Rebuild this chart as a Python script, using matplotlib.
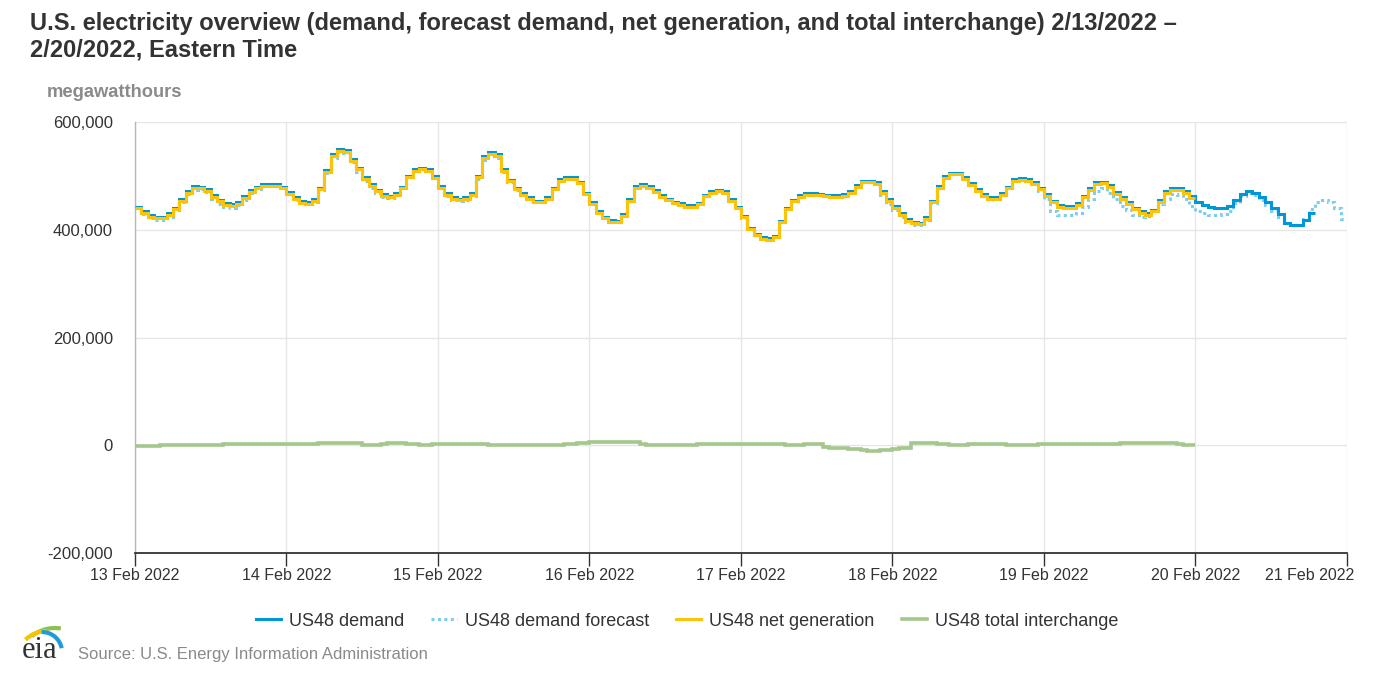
import numpy as np
import matplotlib
matplotlib.use('Agg')
import matplotlib.pyplot as plt
import matplotlib.transforms as mtransforms
from matplotlib.lines import Line2D
from matplotlib.patches import Arc
from matplotlib.ticker import FuncFormatter

plt.rcParams['font.family'] = ['Liberation Sans', 'DejaVu Sans']

# hourly values, thousand MWh, starting 13 Feb 2022 00:00 Eastern
demand = [
    443, 435, 427, 424, 424, 431, 441, 457, 472, 481, 480, 475, 464, 456, 449, 448, 451, 462, 473, 480, 485, 485, 484, 480,
    470, 460, 453, 451, 457, 478, 510, 540, 549, 548, 531, 515, 497, 485, 474, 466, 463, 468, 480, 500, 512, 515, 512, 499,
    481, 468, 460, 458, 460, 468, 500, 537, 544, 540, 512, 493, 478, 468, 460, 454, 454, 460, 478, 494, 497, 497, 489, 469,
    451, 435, 424, 418, 417, 429, 457, 481, 485, 481, 473, 464, 458, 452, 449, 446, 446, 450, 465, 472, 474, 472, 457, 443,
    426, 404, 393, 386, 384, 389, 417, 441, 456, 464, 468, 468, 467, 465, 464, 464, 466, 472, 483, 491, 491, 488, 472, 457,
    444, 431, 420, 415, 413, 423, 454, 481, 499, 506, 506, 497, 486, 475, 466, 461, 460, 468, 480, 494, 496, 494, 488, 478,
    466, 454, 446, 444, 444, 449, 463, 477, 488, 489, 483, 470, 461, 451, 441, 434, 431, 437, 455, 472, 477, 477, 472, 462,
    452, 446, 443, 440, 440, 444, 456, 467, 472, 469, 460, 452, 440, 430, 412, 408, 408, 418, 432,
]
forecast = [
    440, 430, 421, 418, 418, 424, 436, 452, 466, 474, 476, 470, 458, 448, 442, 441, 446, 456, 468, 476, 483, 484, 483, 478,
    467, 456, 449, 447, 452, 474, 505, 533, 544, 543, 525, 508, 490, 478, 468, 461, 459, 464, 477, 497, 510, 513, 510, 497,
    477, 463, 455, 453, 455, 463, 494, 530, 537, 533, 507, 489, 474, 465, 457, 451, 451, 457, 475, 492, 495, 495, 487, 468,
    450, 434, 423, 416, 415, 426, 454, 479, 484, 480, 471, 462, 456, 451, 447, 444, 445, 449, 463, 471, 473, 471, 455, 440,
    422, 402, 391, 384, 382, 388, 414, 438, 454, 463, 467, 466, 464, 462, 461, 461, 463, 469, 480, 489, 489, 485, 465, 448,
    436, 424, 414, 409, 408, 418, 450, 477, 496, 503, 503, 494, 483, 472, 464, 459, 458, 465, 477, 491, 494, 491, 484, 471,
    457, 435, 428, 427, 428, 431, 443, 457, 472, 477, 469, 457, 444, 437, 428, 424, 426, 435, 448, 458, 466, 465, 457, 444,
    435, 431, 428, 428, 430, 435, 450, 462, 468, 465, 455, 446, 435, 423, 413, 409, 409, 420, 438, 452, 455, 452, 440, 420,
]
net_generation = [
    440, 432, 424, 421, 421, 428, 438, 454, 469, 478, 477, 472, 461, 453, 446, 445, 448, 459, 470, 477, 482, 482, 481, 477,
    467, 457, 450, 448, 454, 475, 507, 537, 546, 545, 528, 512, 494, 482, 471, 463, 460, 465, 477, 497, 509, 512, 509, 496,
    478, 465, 457, 455, 457, 465, 497, 534, 541, 537, 509, 490, 475, 465, 457, 451, 451, 457, 475, 491, 494, 494, 486, 466,
    448, 432, 421, 415, 414, 426, 454, 478, 482, 478, 470, 461, 455, 449, 446, 443, 443, 447, 462, 469, 471, 469, 454, 440,
    423, 401, 390, 383, 381, 386, 414, 438, 453, 461, 465, 465, 464, 462, 461, 461, 463, 469, 480, 488, 488, 485, 469, 454,
    441, 428, 417, 412, 410, 420, 451, 478, 496, 503, 503, 494, 483, 472, 463, 458, 457, 465, 477, 491, 493, 491, 485, 475,
    463, 451, 443, 441, 441, 446, 460, 474, 485, 486, 480, 467, 458, 448, 438, 431, 428, 434, 452, 469, 474, 474, 469, 459,
]
interchange = [
    -2, -2, -1, -1, 0, 0, 0, 0, 0, 0, 0, 1, 1, 1, 2, 2, 3, 3, 3, 2, 2, 2, 2, 2,
    2, 2, 2, 2, 3, 4, 4, 4, 4, 4, 4, 4, 1, 0, 1, 2, 4, 4, 4, 3, 3, 0, 1, 2,
    3, 3, 3, 3, 3, 3, 3, 3, 1, 0, 1, 1, 1, 1, 1, 1, 1, 1, 1, 1, 2, 3, 4, 5,
    6, 6, 6, 6, 6, 6, 6, 6, 2, 1, 1, 1, 1, 0, 1, 1, 1, 2, 2, 2, 2, 2, 2, 2,
    2, 2, 2, 2, 2, 2, 2, 1, 1, 0, 2, 3, 3, -4, -6, -6, -6, -7, -7, -8, -10, -10, -9, -8,
    -7, -6, -5, 4, 4, 4, 4, 3, 3, 1, 0, 1, 2, 2, 3, 3, 3, 2, 1, 0, 0, 1, 1, 2,
    2, 2, 2, 2, 2, 2, 2, 3, 3, 3, 3, 3, 4, 4, 4, 5, 5, 5, 5, 5, 5, 3, 0, 1,
]
day_labels = ['13 Feb 2022', '14 Feb 2022', '15 Feb 2022', '16 Feb 2022', '17 Feb 2022',
              '18 Feb 2022', '19 Feb 2022', '20 Feb 2022', '21 Feb 2022']

series = [
    ('US48 demand forecast', forecast, '#7fcdee', (0, (1, 1.1)), 2.2, 2),
    ('US48 demand', demand, '#0096d7', '-', 2.2, 3),
    ('US48 net generation', net_generation, '#fdc20a', '-', 2.2, 4),
    ('US48 total interchange', interchange, '#a4c78c', '-', 2.6, 4),
]

W, H = 1374, 675
fig = plt.figure(figsize=(W / 100, H / 100), dpi=100)
ax = fig.add_axes([135 / W, 1 - 553 / H, 1212 / W, 431 / H])

for name, vals, color, ls, lw, z in series:
    v = np.array(vals) * 1000
    ax.stairs(v, np.arange(len(v) + 1), baseline=None, color=color,
              linestyle=ls, linewidth=lw, zorder=z)

ax.set_xlim(0, 192)
ax.set_ylim(-200000, 600000)
ax.set_xticks(np.arange(0, 193, 24))
ax.set_xticklabels(day_labels)
ax.set_yticks(np.arange(-200000, 600001, 200000))
ax.yaxis.set_major_formatter(FuncFormatter(lambda v, p: f'{int(v):,}'))
ax.grid(True, color='#e6e6e6', linewidth=1, zorder=0)
ax.set_axisbelow(True)
for s in ['top', 'right']:
    ax.spines[s].set_visible(False)
ax.spines['left'].set_color('#b8b8b8')
ax.spines['left'].set_linewidth(1)
ax.spines['bottom'].set_color('#333333')
ax.spines['bottom'].set_linewidth(1.3)
ax.tick_params(axis='x', length=9, width=1, color='#333333', labelsize=11.5,
               labelcolor='#333333', pad=2)
ax.tick_params(axis='y', length=0, labelsize=12, labelcolor='#333333', pad=16)

# last date label is pulled inside the figure like the original
last = ax.get_xticklabels()[-1]
last.set_horizontalalignment('right')
last.set_transform(last.get_transform() + mtransforms.ScaledTranslation(7 / 100, 0, fig.dpi_scale_trans))

fig.text(30 / W, 1 - 30 / H, 'U.S. electricity overview (demand, forecast demand, net generation, '
         'and total interchange) 2/13/2022 \u2013', fontsize=17, fontweight='bold', color='#333333')
fig.text(30 / W, 1 - 56 / H, '2/20/2022, Eastern Time', fontsize=17, fontweight='bold', color='#333333')
fig.text(47 / W, 1 - 97 / H, 'megawatthours', fontsize=13.2, fontweight='bold', color='#8a8a8a')

handles = [Line2D([], [], color=c, linestyle=ls, linewidth=lw) for _, _, c, ls, lw, _ in series]
order = [1, 0, 2, 3]
fig.legend([handles[i] for i in order], [series[i][0] for i in order],
           loc='center', bbox_to_anchor=(687 / W, 1 - 621 / H), ncol=4, frameon=False,
           fontsize=13, handlelength=1.4, handletextpad=0.45, columnspacing=1.5,
           labelcolor='#333333')

fig.text(78 / W, 1 - 659 / H, 'Source: U.S. Energy Information Administration',
         fontsize=12, color='#8a8a8a')

# eia logo
lg = fig.add_axes([10 / W, 1 - 670 / H, 70 / W, 55 / H])
lg.set_xlim(10, 80)
lg.set_ylim(670, 615)
lg.axis('off')
lg.add_patch(Arc((55, 665), 74, 74, theta1=231, theta2=279, color='#8cc152', lw=3))
lg.add_patch(Arc((47, 662), 62, 62, theta1=226, theta2=270, color='#f5c400', lw=3))
lg.add_patch(Arc((42, 652), 40, 40, theta1=269, theta2=349, color='#1f9bd7', lw=3))
lg.text(22, 658, 'eia', fontfamily='Liberation Serif', fontsize=22, color='#333333', va='baseline')

fig.savefig('out.png', dpi=100)
